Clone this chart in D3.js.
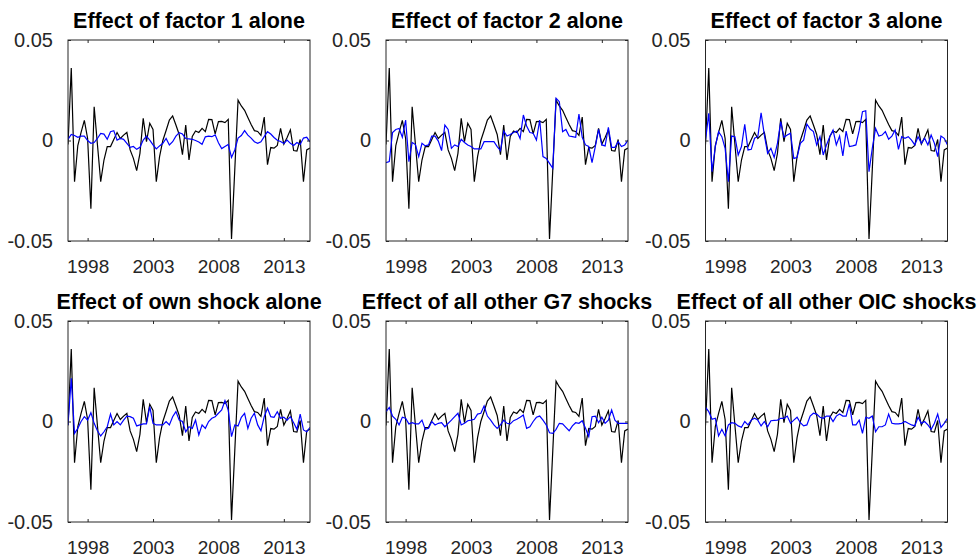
<!DOCTYPE html>
<html>
<head>
<meta charset="utf-8">
<script src="https://cdn.jsdelivr.net/npm/d3@7"></script>
<style>
  html, body { margin: 0; padding: 0; background: #fff; }
  svg { display: block; }
  text { font-family: "Liberation Sans", Arial, Helvetica, sans-serif; }
</style>
</head>
<body>
<svg id="chart" width="979" height="558"></svg>
<script>
// ---------------- data ----------------
const startYear = 1996.5;          // first quarter (time index)
const quarterStep = 0.25;
const xDomain = [1996.5, 2015.0];
const yDomain = [-0.05, 0.05];
const xTicks = [1998, 2003, 2008, 2013];
const xTickLabels = ["1998", "2003", "2008", "2013"];
const yTicks = [-0.05, 0, 0.05];
const yTickLabels = ["-0.05", "0", "0.05"];

const titles = [
  "Effect of factor 1 alone",
  "Effect of factor 2 alone",
  "Effect of factor 3 alone",
  "Effect of own shock alone",
  "Effect of all other G7 shocks",
  "Effect of all other OIC shocks"
];

// actual series (black), identical in every panel
const actual = [
  -0.002, 0.036, -0.0205, -0.0025, 0.004, 0.010, 0.001, -0.034, 0.0168, -0.002,
  -0.0205, -0.0097, -0.003, -0.003, 0.0005, 0.004, 0.001, 0.0027, 0.004, -0.0047,
  -0.0089, -0.015, -0.0064, 0.011, -0.0006, 0.0086, 0.0055, -0.0205, -0.008, 0.0,
  0.005, 0.0102, 0.0122, 0.0077, 0.003, -0.007, 0.0077, -0.0097, 0.002, 0.0047,
  0.004, 0.006, 0.0044, 0.0105, 0.0104, 0.0033, 0.0094, 0.0095, 0.0089, 0.0105,
  -0.049, -0.0145, 0.0201, 0.0172, 0.015, 0.0115, 0.008, 0.0049, 0.0045, 0.0025,
  0.0117, -0.012, -0.0035, -0.0038, -0.0025, 0.006, -0.0018, 0.0015, 0.0053, -0.005,
  -0.0053, 0.0005, -0.0205, -0.0047, -0.0037
];

// contributions (blue)
const factor1 = [
  0.0006, 0.003, 0.0025, 0.0016, 0.0022, 0.0022, 0.0, -0.0014, -0.001, 0.001,
  0.0035, 0.0032, 0.0006, 0.0044, 0.0049, 0.0002, 0.001, 0.0006, -0.0014, -0.0034,
  -0.003, -0.0044, -0.0034, 0.0002, 0.0022, 0.0002, -0.0022, -0.0042, -0.0027, -0.0014,
  0.001, -0.0022, -0.0006, 0.0022, 0.0039, 0.0032, 0.001, 0.0008, 0.0006, 0.0,
  -0.0007, -0.0019, 0.0018, 0.0022, 0.0019, 0.0028, -0.0011, -0.004, -0.003, -0.002,
  -0.0084, -0.0047, 0.0012, 0.0025, 0.0049, 0.0027, 0.0012, -0.0006, -0.0014, -0.0006,
  0.0019, 0.0044, 0.0032, 0.0015, 0.0001, -0.0005, -0.0015, 0.0002, -0.0014, -0.0025,
  -0.001, -0.002, 0.0012, 0.0016, -0.0007
];
const factor2 = [
  -0.011, -0.0105, 0.004, 0.0055, 0.006, 0.0016, 0.0102, -0.0105, -0.001, -0.002,
  -0.008, -0.0014, -0.0027, -0.0022, 0.0022, 0.0022, -0.0003, -0.005, 0.0077, 0.0055,
  -0.0039, -0.0022, -0.003, 0.0006, -0.001, -0.0022, -0.003, -0.0042, -0.0042, -0.0042,
  -0.0006, -0.0006, -0.0006, -0.0006, -0.003, -0.005, 0.0047, 0.0022, 0.003, 0.004,
  0.0047, 0.001, 0.0127, 0.0072, 0.004, 0.0036, 0.0002, 0.0102, -0.008, -0.0089,
  -0.0114, -0.0138, 0.021, 0.0193, 0.0044, 0.0055, 0.0022, 0.0019, 0.0016, 0.0132,
  0.0016, -0.0022, -0.003, -0.011, -0.003, 0.0055, -0.0022, -0.0027, 0.0066, -0.0034,
  -0.0034, -0.0006, -0.003, -0.0022, 0.0002
];
const factor3 = [
  0.0, 0.0135, -0.0155, -0.003, 0.0044, 0.0019, -0.0039, -0.0205, 0.0022, 0.0019,
  -0.0072, -0.003, 0.008, -0.0047, -0.0044, 0.0011, 0.0019, 0.0138, 0.0027, -0.0064,
  -0.0039, -0.0084, -0.0014, 0.0094, 0.0016, 0.0027, 0.0036, -0.0089, -0.0085, -0.0014,
  0.0002, 0.0082, 0.0057, 0.0044, -0.0022, 0.0019, -0.0072, -0.0022, 0.0019, 0.0052,
  -0.0022, 0.0022, -0.0077, 0.0047, -0.003, -0.0027, -0.0022, 0.005, 0.0143, 0.0148,
  -0.0155, -0.0039, 0.006, 0.0022, 0.0027, 0.0044, 0.0006, 0.0022, 0.0052, -0.0044,
  0.0019, 0.0011, 0.0019, 0.0002, -0.0022, 0.0019, -0.0014, 0.0011, -0.0022, 0.0027,
  -0.0014, -0.008, 0.0022, 0.0011, -0.0022
];
const ownShock = [
  -0.0017, 0.0215, -0.0059, -0.0034, 0.0, 0.0024, 0.0007, 0.0044, -0.0009, -0.0046,
  -0.0072, -0.0051, -0.0026, 0.0037, -0.0017, 0.0, -0.0017, 0.0007, 0.0027, 0.0024,
  0.0016, -0.0022, -0.0017, -0.0012, -0.0012, 0.0074, -0.0009, -0.0017, -0.0017, -0.0017,
  0.0, -0.0017, 0.0024, 0.0049, 0.0007, 0.0, -0.0051, -0.0026, -0.0034, 0.0007,
  -0.0067, -0.0017, -0.0034, 0.0, 0.0016, 0.0024, 0.0041, 0.0057, 0.0104, 0.0057,
  -0.0075, -0.0017, -0.0022, 0.0021, 0.0041, -0.0034, 0.0016, 0.0041, -0.0017, -0.0046,
  0.0024, 0.0066, 0.0024, 0.0021, 0.0049, 0.0016, 0.0021, 0.0007, 0.0024, -0.0006,
  -0.0039, 0.0037, -0.0042, -0.0051, -0.0029
];
const otherG7 = [
  0.0049, 0.007, 0.0027, 0.0011, -0.0017, 0.0021, 0.0016, -0.0012, -0.0006, -0.0012,
  -0.0012, 0.0007, -0.0039, -0.0034, 0.0, -0.0017, -0.0009, -0.0006, -0.0026, -0.0009,
  0.0007, 0.0024, 0.0041, -0.0017, -0.0009, 0.0004, 0.0007, 0.0011, 0.0037, 0.0041,
  0.0077, 0.0027, 0.0007, -0.0017, -0.0034, -0.0017, 0.0007, -0.0009, -0.0012, 0.0004,
  0.0011, 0.0021, 0.0032, -0.0034, -0.0026, 0.0, 0.0021, 0.0027, 0.0007, -0.0017,
  -0.0056, -0.0059, -0.0039, -0.0009, -0.0012, -0.0029, -0.0046, -0.0022, -0.0006, -0.0009,
  0.0004, -0.0034, -0.0075, 0.0024, 0.0027, -0.0006, 0.0021, -0.0009, 0.0007, 0.0057,
  0.0007, -0.0009, -0.0009, -0.0009, -0.0009
];
const otherOIC = [
  0.007, 0.0049, 0.0011, 0.0016, -0.0072, -0.0039, -0.0072, -0.0017, -0.0006, -0.0009,
  -0.0022, -0.0029, 0.0, -0.0017, 0.0007, 0.0016, 0.0007, -0.0022, 0.0, -0.0026,
  0.0004, 0.0006, 0.0007, 0.0016, 0.0016, 0.0027, -0.0009, 0.0007, 0.0021, -0.0006,
  -0.0022, -0.0017, 0.0027, 0.0041, 0.0037, 0.0021, 0.0016, 0.0027, 0.0027, 0.0,
  0.0027, 0.0037, 0.0027, 0.0027, 0.0087, -0.0017, -0.0017, 0.0007, -0.0059, 0.0021,
  0.0016, 0.0027, -0.0051, -0.0026, -0.0026, -0.0017, 0.0037, -0.0009, -0.0012, -0.0012,
  -0.0009, 0.0, -0.0009, -0.0017, -0.0022, 0.0021, -0.0009, 0.0, -0.0017, -0.0039,
  -0.0009, 0.0037, -0.0029, -0.0009, 0.0016
];

const contributions = [factor1, factor2, factor3, ownShock, otherG7, otherOIC];

// ---------------- layout ----------------
const colLeft = [68, 386, 705.5];
const rowTop = [40, 321];
const panelW = 242;
const panelH = 201;
const axisColor = "#262626";

const svg = d3.select("#chart");
svg.append("rect").attr("width", 979).attr("height", 558).attr("fill", "#fff");

const x = d3.scaleLinear().domain(xDomain).range([0, panelW]);
const y = d3.scaleLinear().domain(yDomain).range([panelH, 0]);
const times = actual.map((_, i) => startYear + i * quarterStep);

const line = d3.line()
  .x((d, i) => x(times[i]))
  .y(d => y(d));

contributions.forEach((series, k) => {
  const col = k % 3, row = Math.floor(k / 3);
  const g = svg.append("g")
    .attr("transform", `translate(${colLeft[col]},${rowTop[row]})`);

  g.append("defs").append("clipPath").attr("id", "clip" + k)
    .append("rect").attr("width", panelW).attr("height", panelH);

  const plot = g.append("g").attr("clip-path", `url(#clip${k})`);
  plot.append("path").datum(actual)
    .attr("d", line).attr("fill", "none")
    .attr("stroke", "#000").attr("stroke-width", 1.2);
  plot.append("path").datum(series)
    .attr("d", line).attr("fill", "none")
    .attr("stroke", "#0000ff").attr("stroke-width", 1.2);

  // axes with inward ticks
  const bottom = d3.axisBottom(x).tickValues(xTicks)
    .tickFormat((d, i) => xTickLabels[i]).tickSize(-3).tickPadding(19);
  const top = d3.axisTop(x).tickValues(xTicks).tickFormat("").tickSize(-3);
  const left = d3.axisLeft(y).tickValues(yTicks)
    .tickFormat((d, i) => yTickLabels[i]).tickSize(-3).tickPadding(15);
  const right = d3.axisRight(y).tickValues(yTicks).tickFormat("").tickSize(-3);

  const styleAxis = (sel, size) => {
    sel.select(".domain").remove();
    sel.selectAll("line").attr("stroke", axisColor);
    sel.selectAll("text").attr("fill", axisColor)
      .style("font-size", size + "px")
      .style("font-family", '"Liberation Sans", Arial, Helvetica, sans-serif');
  };
  g.append("g").attr("transform", `translate(0,${panelH})`).call(bottom).call(styleAxis, 19);
  g.append("g").call(top).call(styleAxis, 19);
  g.append("g").call(left).call(styleAxis, 20);
  g.append("g").attr("transform", `translate(${panelW},0)`).call(right).call(styleAxis, 20);

  g.append("rect").attr("width", panelW).attr("height", panelH)
    .attr("fill", "none").attr("stroke", axisColor).attr("stroke-width", 1);

  g.append("text")
    .attr("x", panelW / 2).attr("y", -12)
    .attr("text-anchor", "middle")
    .attr("fill", "#000")
    .style("font-size", "21.5px").style("font-weight", "bold")
    .text(titles[k]);
});
</script>
</body>
</html>
